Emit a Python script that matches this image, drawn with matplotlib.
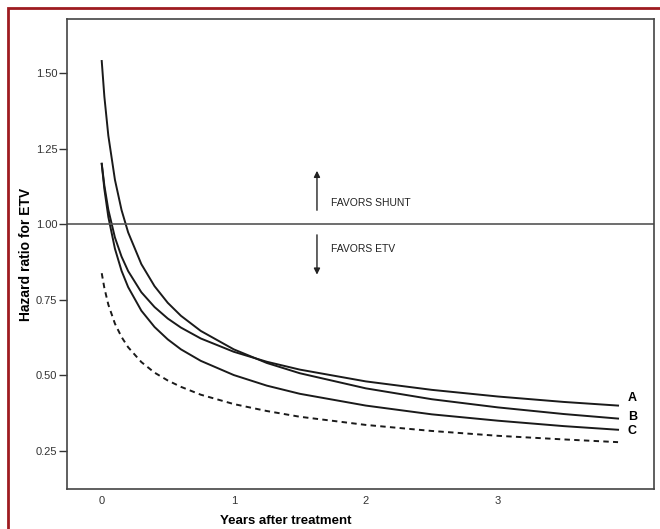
import matplotlib.pyplot as plt
from matplotlib.patches import Rectangle

plt.rcParams['font.family'] = ['Liberation Sans', 'DejaVu Sans']

# tiempo (años) y curvas
anios = [0, 0.02, 0.05, 0.1, 0.15, 0.2, 0.3, 0.4, 0.5, 0.6, 0.75,
         1.0, 1.25, 1.5, 2.0, 2.5, 3.0, 3.5, 3.91]
curva_a = [1.20, 1.128, 1.048, 0.956, 0.893, 0.845, 0.775, 0.726, 0.688, 0.658, 0.622,
           0.578, 0.545, 0.519, 0.480, 0.452, 0.430, 0.412, 0.400]
curva_b = [1.54, 1.422, 1.293, 1.147, 1.047, 0.973, 0.868, 0.795, 0.740, 0.697, 0.647,
           0.586, 0.541, 0.507, 0.457, 0.421, 0.394, 0.372, 0.357]
curva_c = [1.20, 1.116, 1.024, 0.919, 0.846, 0.792, 0.714, 0.660, 0.619, 0.586, 0.548,
           0.501, 0.466, 0.439, 0.400, 0.371, 0.350, 0.332, 0.320]
curva_discontinua = [0.838, 0.789, 0.734, 0.671, 0.627, 0.593, 0.544, 0.509, 0.483, 0.462, 0.436,
                     0.405, 0.382, 0.363, 0.336, 0.316, 0.300, 0.288, 0.279]

etiquetas = ['A', 'B', 'C']
pos_etiquetas = [0.424, 0.361, 0.316]

yticks = [0.25, 0.50, 0.75, 1.00, 1.25, 1.50]
xticks = [0, 1, 2, 3]

fig = plt.figure(figsize=(6.6, 5.29), dpi=100)
ax = fig.add_axes([67 / 660, 40 / 529, 586.7 / 660, 470 / 529])

color_linea = '#1a1a1a'
ax.plot(anios, curva_a, color=color_linea, lw=1.4)
ax.plot(anios, curva_b, color=color_linea, lw=1.4)
ax.plot(anios, curva_c, color=color_linea, lw=1.4)
ax.plot(anios, curva_discontinua, color=color_linea, lw=1.4, dashes=(2.8, 2.2))

ax.axhline(1.0, color='#555555', lw=1.2)

for letra, yv in zip(etiquetas, pos_etiquetas):
    ax.text(3.985, yv, letra, fontsize=9, fontweight='bold', va='center', ha='left')

# flechas y textos
ax.annotate('', xy=(1.63, 1.186), xytext=(1.63, 1.037),
            arrowprops=dict(arrowstyle='-|>', mutation_scale=9, lw=1, color='#222222'))
ax.annotate('', xy=(1.63, 0.824), xytext=(1.63, 0.974),
            arrowprops=dict(arrowstyle='-|>', mutation_scale=9, lw=1, color='#222222'))
ax.text(1.74, 1.07, 'FAVORS SHUNT', fontsize=7.5, va='center', ha='left', color='#222222')
ax.text(1.74, 0.918, 'FAVORS ETV', fontsize=7.5, va='center', ha='left', color='#222222')

ax.set_xlim(-0.263, 4.18)
ax.set_ylim(0.124, 1.679)
ax.set_yticks(yticks)
ax.set_yticklabels(['%.2f' % v for v in yticks])
ax.set_xticks(xticks)
ax.tick_params(axis='y', length=6, width=1, pad=1, labelsize=8, colors='#333333')
ax.tick_params(axis='x', length=0, pad=5, labelsize=8, colors='#333333')
for s in ax.spines.values():
    s.set_color('#444444')
    s.set_linewidth(1.2)

ax.set_ylabel('Hazard ratio for ETV', fontsize=10, fontweight='bold')
ax.yaxis.set_label_coords(-0.058, 0.5)
ax.set_xlabel('Years after treatment', fontsize=9.5, fontweight='bold')
ax.xaxis.set_label_coords(0.373, -0.056)

# marco rojo
marco = Rectangle((8 / 660, -0.1), 1.2, 1 - 8 / 529 + 0.1, transform=fig.transFigure,
                  fill=False, edgecolor='#9e1b20', lw=2, clip_on=False)
fig.patches.append(marco)

fig.savefig('out.png', dpi=100)
